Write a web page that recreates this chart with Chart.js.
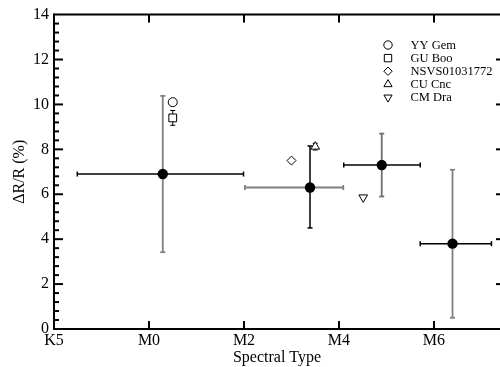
<!DOCTYPE html>
<html><head><meta charset="utf-8">
<script src="https://cdn.jsdelivr.net/npm/chart.js@4/dist/chart.umd.min.js"></script>
<style>html,body{margin:0;padding:0;background:#fff}#wrap{width:500px;height:367px}</style>
</head><body><div id="wrap"><canvas id="c" width="500" height="367"></canvas></div>
<script>
// Spectral type axis: K5=0, M0=2, M2=4, M4=6, M6=8
const tickValues = [0, 2, 4, 6, 8];
const tickLabels = ['K5', 'M0', 'M2', 'M4', 'M6'];
const yTickValues = [0, 2, 4, 6, 8, 10, 12, 14];

// Binned means with error bars
const binX = [2.29, 5.39, 6.90, 8.39];
const binY = [6.9, 6.3, 7.3, 3.8];
const binXLow = [0.49, 4.02, 6.10, 7.71];
const binXHigh = [3.99, 6.09, 7.71, 9.21];
const binYLow = [3.42, 4.50, 5.90, 0.50];
const binYHigh = [10.38, 8.15, 8.70, 7.09];

// Individual systems
const starNames = ['YY Gem', 'GU Boo', 'NSVS01031772', 'CU Cnc', 'CM Dra'];
const starX = [2.50, 2.50, 5.00, 5.50, 6.51];
const starY = [10.1, 9.4, 7.5, 8.12, 5.86];
const starYErr = [0, 0.33, 0, 0.15, 0];

// styles
const starStyles = [
  {pointStyle: 'circle', radius: 4.5, rotation: 0},
  {pointStyle: 'rect', radius: 5.5, rotation: 0},
  {pointStyle: 'rectRot', radius: 4.5, rotation: 0},
  {pointStyle: 'triangle', radius: 5, rotation: 0},
  {pointStyle: 'triangle', radius: 5, rotation: 180}
];
const vBarColor = ['#808080', '#000000', '#707070', '#808080'];
const hBarColor = ['#000000', '#808080', '#000000', '#000000'];
const FONT = "'Liberation Serif', 'Times New Roman', serif";

const datasets = [{
  label: 'binned',
  data: binX.map((x, i) => ({x, y: binY[i]})),
  pointStyle: 'circle', pointRadius: 5.2, backgroundColor: '#000', borderColor: '#000', borderWidth: 0,
  showLine: false
}];
starNames.forEach((n, i) => {
  datasets.push({
    label: n,
    data: [{x: starX[i], y: starY[i]}],
    pointStyle: starStyles[i].pointStyle,
    pointRadius: starStyles[i].radius,
    rotation: starStyles[i].rotation,
    backgroundColor: '#fff', borderColor: '#000', borderWidth: 1,
    showLine: false
  });
});

function line(ctx, x1, y1, x2, y2) { ctx.beginPath(); ctx.moveTo(x1, y1); ctx.lineTo(x2, y2); ctx.stroke(); }

const errPlugin = {
  id: 'errbars',
  beforeDatasetsDraw(chart) {
    const ctx = chart.ctx, xs = chart.scales.x, ys = chart.scales.y;
    ctx.save();
    const cap = 2.5;
    binX.forEach((x, i) => {
      const px = xs.getPixelForValue(x), py = ys.getPixelForValue(binY[i]);
      const xl = xs.getPixelForValue(binXLow[i]), xh = xs.getPixelForValue(binXHigh[i]);
      const yl = ys.getPixelForValue(binYLow[i]), yh = ys.getPixelForValue(binYHigh[i]);
      ctx.strokeStyle = hBarColor[i];
      ctx.lineWidth = hBarColor[i] === '#000000' ? 1.5 : 1.8;
      line(ctx, xl, py, xh, py);
      line(ctx, xl, py - cap, xl, py + cap);
      line(ctx, xh, py - cap, xh, py + cap);
      ctx.strokeStyle = vBarColor[i];
      ctx.lineWidth = vBarColor[i] === '#000000' ? 1.5 : 1.8;
      line(ctx, px, yl, px, yh);
      line(ctx, px - cap, yl, px + cap, yl);
      line(ctx, px - cap, yh, px + cap, yh);
    });
    ctx.strokeStyle = '#000';
    ctx.lineWidth = 1;
    starX.forEach((x, i) => {
      if (!starYErr[i]) return;
      const px = xs.getPixelForValue(x);
      const yl = ys.getPixelForValue(starY[i] - starYErr[i]), yh = ys.getPixelForValue(starY[i] + starYErr[i]);
      line(ctx, px, yl, px, yh);
      line(ctx, px - 2.5, yl, px + 2.5, yl);
      line(ctx, px - 2.5, yh, px + 2.5, yh);
    });
    ctx.restore();
  },
  afterDraw(chart) {
    const ctx = chart.ctx, xs = chart.scales.x, ys = chart.scales.y, a = chart.chartArea;
    ctx.save();
    ctx.strokeStyle = '#000';
    ctx.lineWidth = 2;
    // frame
    line(ctx, a.left, a.bottom, a.right, a.bottom);
    line(ctx, a.left, a.top, a.right, a.top);
    line(ctx, a.left, a.top - 1, a.left, a.bottom + 1);
    // x ticks bottom and top
    tickValues.forEach(v => {
      if (v === 0) return;
      const px = xs.getPixelForValue(v);
      line(ctx, px, a.bottom, px, a.bottom - 8);
      line(ctx, px, a.top, px, a.top + 8);
    });
    // y ticks left major/minor, right major
    for (let k = 0; k <= 35; k++) {
      const v = k * 0.4;
      const py = ys.getPixelForValue(v);
      const major = (k % 5 === 0);
      if (k === 0 || k === 35) continue;
      line(ctx, a.left, py, a.left + (major ? 9 : 5), py);
      if (major) line(ctx, a.right, py, a.right - 4, py);
    }
    // legend
    const lx = 388, tx = 410.5, ly0 = 45, dy = 13.1;
    ctx.font = '12.5px ' + FONT;
    ctx.textBaseline = 'middle';
    ctx.textAlign = 'left';
    starNames.forEach((n, i) => {
      const y = ly0 + i * dy;
      ctx.lineWidth = 1;
      ctx.strokeStyle = '#000';
      ctx.fillStyle = '#fff';
      Chart.helpers.drawPoint(ctx, {pointStyle: starStyles[i].pointStyle, radius: starStyles[i].radius - 0.3, rotation: starStyles[i].rotation, borderWidth: 1}, lx, y);
      ctx.fillStyle = '#000';
      ctx.fillText(n, tx, y + 0.5);
    });
    ctx.restore();
  }
};

new Chart(document.getElementById('c'), {
  type: 'scatter',
  data: {datasets},
  plugins: [errPlugin],
  options: {
    responsive: false,
    animation: false,
    devicePixelRatio: 1,
    layout: {padding: {top: 13, right: 0, left: 0, bottom: 0}, autoPadding: false},
    plugins: {legend: {display: false}, tooltip: {enabled: false}},
    scales: {
      x: {
        type: 'linear', min: 0, max: 9.39,
        afterFit(s) { s.height = 38; },
        afterBuildTicks(s) { s.ticks = tickValues.map(v => ({value: v})); },
        ticks: {
          callback: (v) => { const i = tickValues.indexOf(v); return i >= 0 ? tickLabels[i] : ''; },
          font: {family: FONT, size: 16}, color: '#000', padding: 2, maxRotation: 0, autoSkip: false
        },
        grid: {display: false, drawTicks: false},
        border: {display: false},
        title: {display: true, text: 'Spectral Type', font: {family: FONT, size: 16}, color: '#000', padding: {top: 0, bottom: 0}}
      },
      y: {
        type: 'linear', min: 0, max: 14,
        afterFit(s) { s.width = 54; },
        afterBuildTicks(s) { s.ticks = yTickValues.map(v => ({value: v})); },
        ticks: {font: {family: FONT, size: 16}, color: '#000', padding: 5, autoSkip: false},
        grid: {display: false, drawTicks: false},
        border: {display: false},
        title: {display: true, text: 'ΔR/R (%)', font: {family: FONT, size: 16}, color: '#000', padding: {top: 10, bottom: 0}}
      }
    }
  }
});
</script>
</body></html>
